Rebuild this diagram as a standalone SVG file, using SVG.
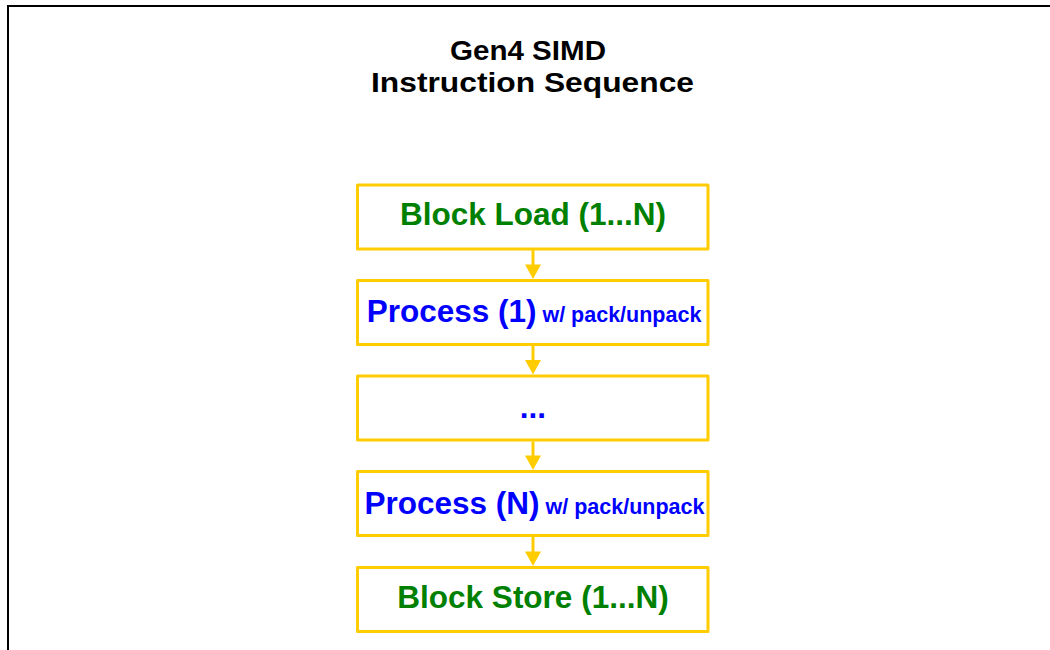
<svg xmlns="http://www.w3.org/2000/svg" width="1050" height="650" viewBox="0 0 1050 650">
<style>
.box{fill:#fff;stroke:#FFCC00;stroke-width:3;stroke-linejoin:round}
.t{font-family:"Liberation Sans",Arial,sans-serif;font-weight:bold;text-anchor:middle}
.g{fill:#008000;font-size:31.5px}
.b{fill:#0000FF;font-size:31.5px}
.s{font-size:21.5px}
.title{fill:#000;font-size:28.5px}
.conn line{stroke:#FFCC00;stroke-width:3}
.conn polygon{fill:#FFCC00}
</style>
<rect width="1050" height="650" fill="#fff"/>
<path d="M8,650 V6 H1050" fill="none" stroke="#000" stroke-width="2"/>
<g id="title">
<text class="t title" x="528" y="59.5" textLength="156" lengthAdjust="spacingAndGlyphs">Gen4 SIMD</text>
<text class="t title" x="532.5" y="91.5" textLength="323" lengthAdjust="spacingAndGlyphs">Instruction Sequence</text>
</g>
<g id="connectors" class="conn">
<line x1="533" y1="250" x2="533" y2="266"/>
<polygon points="525,264.5 541,264.5 533,279"/>
<line x1="533" y1="346" x2="533" y2="362"/>
<polygon points="525,360 541,360 533,374.5"/>
<line x1="533" y1="441.5" x2="533" y2="458"/>
<polygon points="525,455.5 541,455.5 533,470"/>
<line x1="533" y1="537" x2="533" y2="553"/>
<polygon points="525,551.5 541,551.5 533,566"/>
</g>
<g id="node1">
<rect class="box" x="357.5" y="185" width="350.5" height="64"/>
<text class="t g" x="533" y="225">Block Load (1...N)</text>
</g>
<g id="node2">
<rect class="box" x="357.5" y="280.5" width="350.5" height="64"/>
<text class="t b" x="534" y="322">Process (1)<tspan class="s"> w/ pack/unpack</tspan></text>
</g>
<g id="node3">
<rect class="box" x="357.5" y="376" width="350.5" height="64"/>
<text class="t b" x="533" y="418">...</text>
</g>
<g id="node4">
<rect class="box" x="357.5" y="471.5" width="350.5" height="64"/>
<text class="t b" x="534.5" y="513.5">Process (N)<tspan class="s"> w/ pack/unpack</tspan></text>
</g>
<g id="node5">
<rect class="box" x="357.5" y="567.5" width="350.5" height="64"/>
<text class="t g" x="533" y="608">Block Store (1...N)</text>
</g>
</svg>
